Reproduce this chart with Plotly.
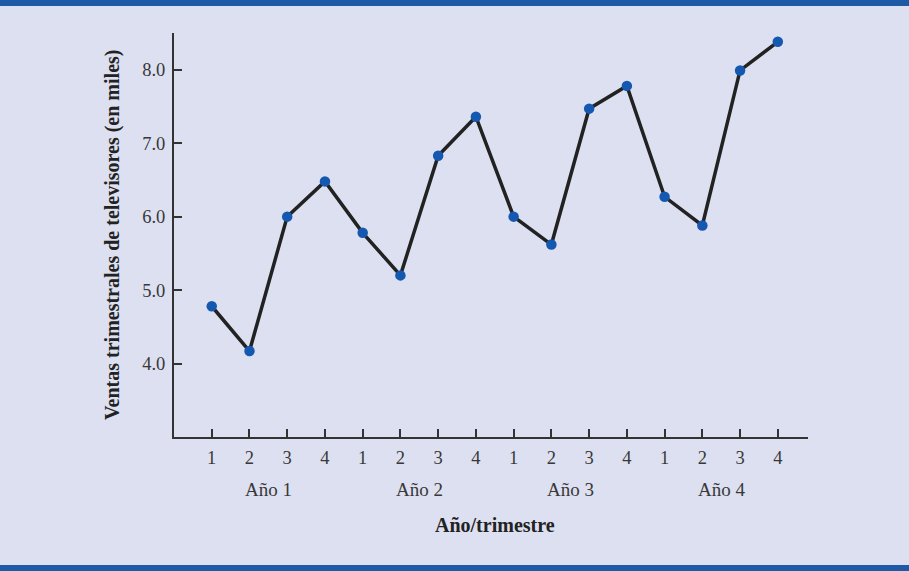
import plotly.graph_objects as go

periods = list(range(1, 17))
quarter_labels = ["1", "2", "3", "4"] * 4
sales = [4.78, 4.17, 6.0, 6.48, 5.78, 5.2, 6.83, 7.36, 6.0, 5.62, 7.47, 7.78, 6.27, 5.88, 7.99, 8.38]
year_labels = ["Año 1", "Año 2", "Año 3", "Año 4"]
year_centers = [2.5, 6.5, 10.5, 14.5]
y_ticks = [4.0, 5.0, 6.0, 7.0, 8.0]

BG = "#dde0f0"
BLUE = "#1f5aa6"
FONT = "Liberation Serif"

fig = go.Figure()
fig.add_trace(go.Scatter(
    x=periods, y=sales, mode="lines+markers",
    line=dict(color="#222222", width=3.5),
    marker=dict(color="#1558b0", size=10.5),
    hoverinfo="skip", showlegend=False,
))

L, T, R, B = 174, 33, 101, 134
W, H = 909, 571
ph = H - T - B

fig.update_layout(
    width=W, height=H,
    margin=dict(l=L, r=R, t=T, b=B),
    paper_bgcolor=BG, plot_bgcolor=BG,
    font=dict(family=FONT, size=18.5, color="#383838"),
    xaxis=dict(
        range=[0, 16.8], tickmode="array", tickvals=periods, ticktext=quarter_labels,
        showgrid=False, zeroline=False, showline=True, linecolor="#333333", linewidth=2,
        ticks="inside", ticklen=8, tickwidth=2, tickcolor="#333333",
        ticklabelstandoff=3,
    ),
    yaxis=dict(
        range=[3.0, 8.5], tickmode="array", tickvals=y_ticks,
        ticktext=[f"{v:.1f}" for v in y_ticks],
        showgrid=False, zeroline=False, showline=True, linecolor="#333333", linewidth=2,
        ticks="inside", ticklen=8, tickwidth=2, tickcolor="#333333",
        ticklabelstandoff=3,
    ),
)

for lab, xc in zip(year_labels, year_centers):
    fig.add_annotation(x=xc, xref="x", y=(437 - 489) / ph, yref="paper",
                       text=lab, showarrow=False, yanchor="middle",
                       font=dict(family=FONT, size=19, color="#383838"))

fig.add_annotation(x=8.5, xref="x", y=(437 - 525) / ph, yref="paper",
                   text="<b>Año/trimestre</b>", showarrow=False, yanchor="middle",
                   font=dict(family=FONT, size=20, color="#222222"))

fig.add_annotation(x=(112 - L) / (W - L - R), xref="paper", y=0.5, yref="paper",
                   text="<b>Ventas trimestrales de televisores (en miles)</b>",
                   textangle=-90, showarrow=False, xanchor="center", yanchor="middle",
                   font=dict(family=FONT, size=20, color="#222222"))

# Blue bands at top and bottom
fig.add_shape(type="rect", xref="paper", yref="paper",
              x0=-L / (W - L - R), x1=1 + R / (W - L - R),
              y0=1 + (T - 6) / ph, y1=1 + T / ph + 0.01,
              fillcolor=BLUE, line=dict(width=0), layer="above")
fig.add_shape(type="rect", xref="paper", yref="paper",
              x0=-L / (W - L - R), x1=1 + R / (W - L - R),
              y0=-B / ph - 0.01, y1=-(B - 6) / ph,
              fillcolor=BLUE, line=dict(width=0), layer="above")

fig.write_html("out.html")
